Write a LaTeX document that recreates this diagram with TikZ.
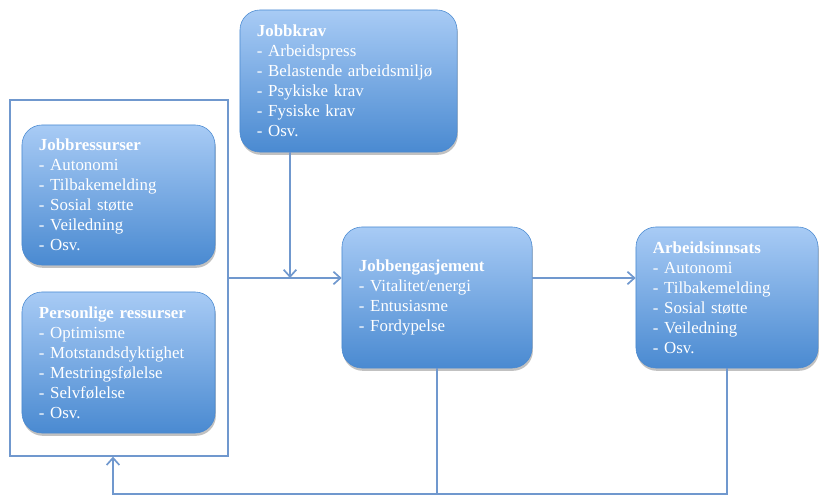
\documentclass[tikz,border=0pt]{standalone}
\usepackage{fontspec}
\setmainfont{Liberation Serif}
\usetikzlibrary{arrows.meta,shadows}
\definecolor{boksTopp}{RGB}{168,203,245}
\definecolor{boksBunn}{RGB}{74,138,209}
\definecolor{linje}{RGB}{112,152,206}
\tikzset{
  boks/.style={rounded corners=0.5cm, top color=boksTopp, bottom color=boksBunn,
    draw=boksBunn, line width=0.4pt, text=white, align=left,
    inner xsep=0.425cm, minimum height=3.525cm,
    font=\fontsize{12}{14.2}\selectfont,
    drop shadow={shadow xshift=0.6pt, shadow yshift=-2pt, opacity=0.35, fill=black!70}},
  ramme/.style={draw=linje, line width=0.9pt, minimum width=5.45cm, minimum height=8.9cm},
  strek/.style={draw=linje, line width=1.2pt},
  pil/.style={strek, -{Straight Barb[length=5pt,width=9pt]}}
}

\begin{document}
\begin{tikzpicture}[x=0.025cm, y=-0.025cm]
\useasboundingbox (0,0) rectangle (819,498);
\node[ramme] (ressurser) at (119,278) {};
\node[boks, text width=4.575cm, minimum height=3.55cm] (krav) at (348.5,81)
  {\textbf{Jobbkrav}\\- Arbeidspress\\- Belastende arbeidsmiljø\\- Psykiske krav\\- Fysiske krav\\- Osv.};
\node[boks, text width=3.975cm, minimum height=3.5cm] (jobbres) at (118.5,195)
  {\textbf{Jobbressurser}\\- Autonomi\\- Tilbakemelding\\- Sosial støtte\\- Veiledning\\- Osv.};
\node[boks, text width=3.975cm] (persres) at (118.5,362.5)
  {\textbf{Personlige ressurser}\\- Optimisme\\- Motstandsdyktighet\\- Mestringsfølelse\\- Selvfølelse\\- Osv.};
\node[boks, text width=3.9cm] (engasjement) at (437,297.5)
  {\textbf{Jobbengasjement}\\- Vitalitet/energi\\- Entusiasme\\- Fordypelse};
\node[boks, text width=3.7cm] (innsats) at (727,297.5)
  {\textbf{Arbeidsinnsats}\\- Autonomi\\- Tilbakemelding\\- Sosial støtte\\- Veiledning\\- Osv.};

\coordinate (kravpil) at (290,278);
\coordinate (retur) at (113,494);

\draw[pil] (ressurser.east) -- (ressurser.east -| engasjement.west);
\draw[pil] (kravpil |- krav.south) -- (kravpil);
\draw[pil] (engasjement.east |- ressurser.east) -- (innsats.west |- ressurser.east);
\draw[strek] (engasjement.south) -- (engasjement.south |- retur);
\draw[pil] (innsats.south) |- (retur) -- (retur |- ressurser.south);
\end{tikzpicture}
\end{document}
